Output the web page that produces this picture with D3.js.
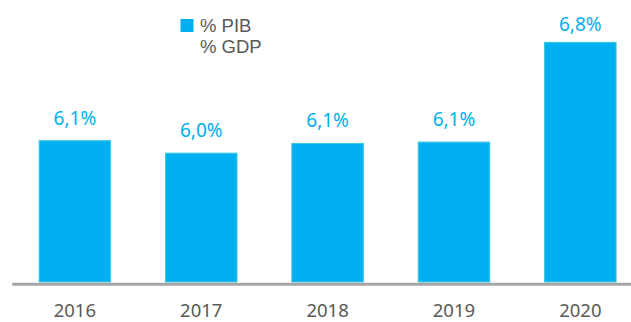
<!DOCTYPE html>
<html>
<head>
<meta charset="utf-8">
<script src="https://cdn.jsdelivr.net/npm/d3@7"></script>
<style>
  html, body { margin: 0; padding: 0; background: #fff; }
  svg { display: block; font-family: "Noto Sans", "Open Sans", sans-serif; }
</style>
</head>
<body>
<svg id="chart" width="631" height="322"></svg>
<script>
// Public spending on education, share of GDP
const years = ["2016", "2017", "2018", "2019", "2020"];
const pibShare = [6.09, 6.00, 6.07, 6.08, 6.80];
const legendLabels = ["% PIB", "% GDP"];
const legendColors = ["#00b0f0", "none"];

const W = 631, H = 322;
const baseY = 282;
const svg = d3.select("#chart");

const x = d3.scaleBand()
  .domain(years)
  .range([11.7, 643.5])
  .paddingInner(0.434)
  .paddingOuter(0.217);

const y = d3.scaleLinear()
  .domain([5.07, 6.8])
  .range([baseY, 42.3]);

const fmt = v => d3.format(".1f")(v).replace(".", ",") + "%";

// bars
svg.append("g")
  .selectAll("rect")
  .data(years.map((yr, i) => ({ yr, v: pibShare[i] })))
  .join("rect")
  .attr("x", d => x(d.yr))
  .attr("y", d => y(d.v))
  .attr("width", x.bandwidth())
  .attr("height", d => baseY - y(d.v))
  .attr("fill", "#00b0f0")
  .attr("stroke", "#3fc8dc")
  .attr("stroke-width", 1);

// value labels
svg.append("g")
  .selectAll("text")
  .data(years.map((yr, i) => ({ yr, v: pibShare[i] })))
  .join("text")
  .attr("x", d => x(d.yr) + x.bandwidth() / 2)
  .attr("y", d => Math.max(y(d.v) - 16, 31))
  .attr("text-anchor", "middle")
  .attr("font-size", 19)
  .attr("fill", "#00b0f0")
  .text(d => fmt(d.v));

// category axis
const axis = svg.append("g")
  .attr("transform", `translate(0,${baseY + 1.8})`)
  .call(d3.axisBottom(x).tickSize(0).tickPadding(0));
axis.select(".domain")
  .attr("stroke", "#a6a6a6")
  .attr("stroke-width", 3);
axis.selectAll(".tick text")
  .attr("dy", null)
  .attr("y", 33)
  .attr("font-size", 18.5)
  .attr("font-family", "'Noto Sans', 'Open Sans', sans-serif")
  .attr("fill", "#595959");

// legend
const legend = svg.append("g").attr("transform", "translate(180.5,19)");
const items = legend.selectAll("g")
  .data(legendLabels.map((t, i) => ({ t, c: legendColors[i] })))
  .join("g")
  .attr("transform", (d, i) => `translate(0,${i * 21.4})`);
items.append("rect")
  .attr("width", 13)
  .attr("height", 13)
  .attr("fill", d => d.c);
items.append("text")
  .attr("x", 19.5)
  .attr("y", 12.9)
  .attr("font-size", 18.5)
  .attr("font-family", "'Liberation Sans', Arial, sans-serif")
  .attr("fill", "#595959")
  .text(d => d.t);
</script>
</body>
</html>
